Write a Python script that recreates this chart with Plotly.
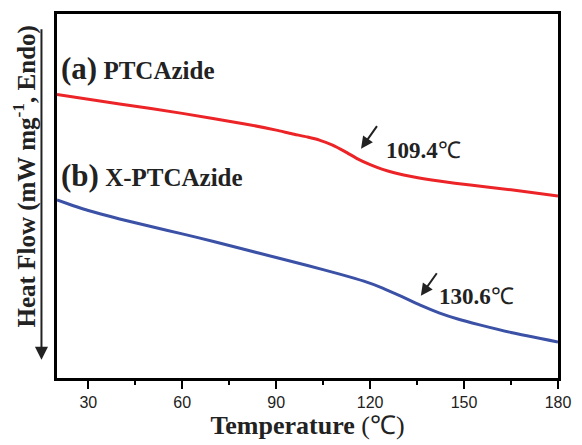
import plotly.graph_objects as go

# Temperature (°C) and heat flow (arbitrary units, endo down)
temp_a = [20, 40, 60, 80, 90, 95, 100, 104, 108, 112, 116, 120, 124, 128, 134, 142, 152, 165, 180]
flow_a = [7.79, 7.53, 7.27, 6.98, 6.81, 6.71, 6.62, 6.53, 6.40, 6.22, 6.02, 5.86, 5.73, 5.63, 5.52, 5.41, 5.30, 5.17, 5.00]

temp_b = [20, 25, 30, 40, 50, 60, 70, 80, 90, 100, 110, 118, 124, 130, 136, 142, 148, 155, 165, 180]
flow_b = [4.89, 4.74, 4.60, 4.37, 4.16, 3.96, 3.75, 3.53, 3.31, 3.09, 2.86, 2.66, 2.47, 2.24, 2.00, 1.79, 1.62, 1.46, 1.25, 0.99]

x_ticks = [30, 60, 90, 120, 150, 180]

label_a = "(a)"
name_a = "PTCAzide"
label_b = "(b)"
name_b = "X-PTCAzide"
tg_a = "109.4℃"
tg_b = "130.6℃"

serif = "Liberation Serif"
sans = "Liberation Sans"

fig = go.Figure()
fig.add_trace(go.Scatter(x=temp_a, y=flow_a, mode="lines", line=dict(color="#ec2427", width=3, shape="spline", smoothing=0.6),
                         showlegend=False, hoverinfo="skip"))
fig.add_trace(go.Scatter(x=temp_b, y=flow_b, mode="lines", line=dict(color="#3b51a6", width=3, shape="spline", smoothing=0.6),
                         showlegend=False, hoverinfo="skip"))

fig.update_layout(
    width=582, height=445,
    margin=dict(l=57, r=15, t=11, b=62),
    plot_bgcolor="white", paper_bgcolor="white",
    xaxis=dict(range=[20, 180], tickvals=x_ticks, ticks="outside", ticklen=8, tickwidth=2, tickcolor="black",
               showline=True, linewidth=2.5, linecolor="black", mirror=True, showgrid=False, zeroline=False,
               tickfont=dict(family=sans, size=16, color="#222"),
               minor=dict(dtick=15, tick0=0, ticks="outside", ticklen=4, tickwidth=2, tickcolor="black"),
               title=dict(text="<b>Temperature</b> (℃)", font=dict(family=serif, size=26, color="#222"), standoff=5)),
    yaxis=dict(range=[0, 10], showticklabels=False, ticks="", showline=True, linewidth=2.5, linecolor="black",
               mirror=True, showgrid=False, zeroline=False),
)

annotations = [
    dict(x=20.5, y=8.5, xref="x", yref="y", xanchor="left", yanchor="middle", showarrow=False,
         text=f"<b><span style='font-size:31px'>{label_a}</span> {name_a}</b>",
         font=dict(family=serif, size=25, color="#222")),
    dict(x=20.5, y=5.55, xref="x", yref="y", xanchor="left", yanchor="middle", showarrow=False,
         text=f"<b><span style='font-size:31px'>{label_b}</span> {name_b}</b>",
         font=dict(family=serif, size=25, color="#222")),
    dict(x=124.4, y=6.26, xref="x", yref="y", xanchor="left", yanchor="middle", showarrow=False,
         text=f"<b>{tg_a[:-1]}</b>{tg_a[-1]}", font=dict(family=serif, size=23, color="#222")),
    dict(x=141.4, y=2.25, xref="x", yref="y", xanchor="left", yanchor="middle", showarrow=False,
         text=f"<b>{tg_b[:-1]}</b>{tg_b[-1]}", font=dict(family=serif, size=23, color="#222")),
    dict(x=117.1, y=6.30, xref="x", yref="y", ax=17, ay=-24, axref="pixel", ayref="pixel", text="",
         showarrow=True, arrowhead=2, arrowsize=1.2, arrowwidth=2, arrowcolor="#222"),
    dict(x=136.2, y=2.26, xref="x", yref="y", ax=17, ay=-24, axref="pixel", ayref="pixel", text="",
         showarrow=True, arrowhead=2, arrowsize=1.2, arrowwidth=2, arrowcolor="#222"),
    dict(x=-0.063, y=0.555, xref="paper", yref="paper", textangle=-90, showarrow=False,
         xanchor="center", yanchor="middle",
         text="<b>Heat Flow (mW mg<sup>-1</sup>, Endo)</b>", font=dict(family=serif, size=25, color="#222")),
    dict(x=-0.031, y=0.05, xref="paper", yref="paper", ax=0, ay=-332, axref="pixel", ayref="pixel", text="",
         showarrow=True, arrowhead=2, arrowsize=1.3, arrowwidth=2, arrowcolor="#222"),
]
fig.update_layout(annotations=annotations)

fig.write_html("out.html")
